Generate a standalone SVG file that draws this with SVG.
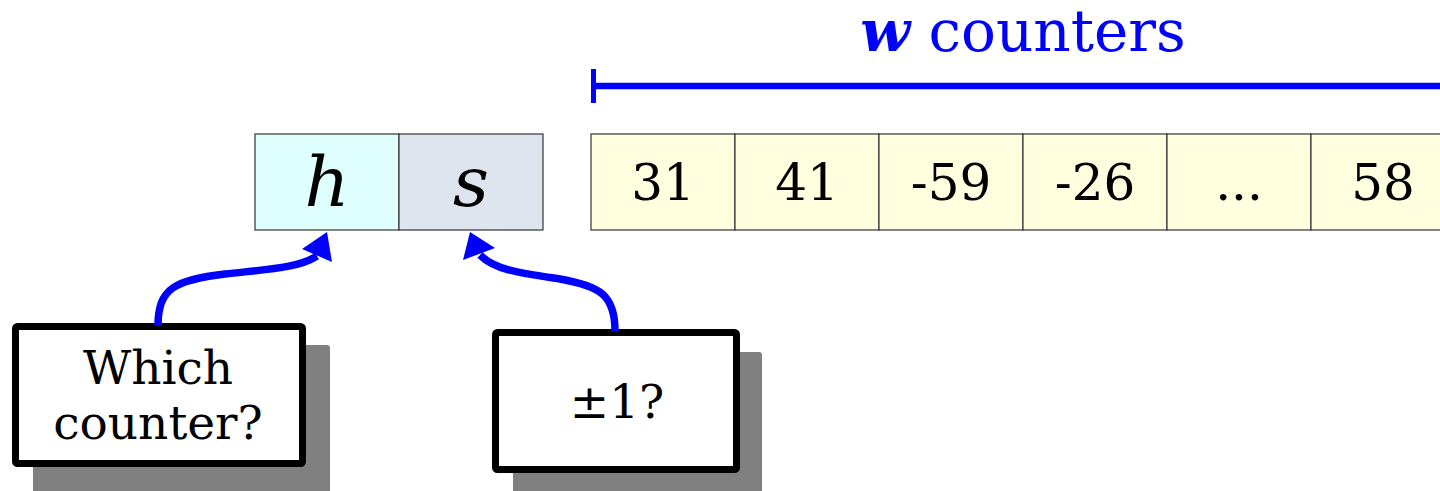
<svg xmlns="http://www.w3.org/2000/svg" width="1440" height="491" viewBox="0 0 1440 491">
<style>
.cell{stroke:#333;stroke-width:1.2}
.hbox{fill:#dfffff}
.sbox{fill:#dee5ef}
.cnt{fill:#ffffdf}
.t{font-family:"DejaVu Serif",serif;fill:#000;text-anchor:middle}
.num{font-size:50px}
.var{font-size:70px;font-style:italic}
.lbl{font-size:47px}
.box{fill:#fff;stroke:#000;stroke-width:7}
.shadow{fill:#808080}
.wire{fill:none;stroke:#0000ff;stroke-width:7.5}
.head{fill:#0000ff}
</style>
<rect width="1440" height="491" fill="#fff"/>
<g id="title">
<text x="1023" y="51" font-family="DejaVu Serif, serif" font-size="58" fill="#0000ff" text-anchor="middle"><tspan font-weight="bold" font-style="italic">w</tspan> counters</text>
<line x1="594" y1="86" x2="1440" y2="86" stroke="#0000ff" stroke-width="6.5"/>
<line x1="593.5" y1="69" x2="593.5" y2="103" stroke="#0000ff" stroke-width="5"/>
</g>
<g id="h">
<rect class="cell hbox" x="255" y="134" width="144" height="96"/>
<text class="t var" x="327" y="206">h</text>
</g>
<g id="s">
<rect class="cell sbox" x="399" y="134" width="144" height="96"/>
<text class="t var" x="471" y="206">s</text>
</g>
<g id="c1"><rect class="cell cnt" x="591" y="134" width="144" height="96"/><text class="t num" x="663" y="200">31</text></g>
<g id="c2"><rect class="cell cnt" x="735" y="134" width="144" height="96"/><text class="t num" x="807" y="200">41</text></g>
<g id="c3"><rect class="cell cnt" x="879" y="134" width="144" height="96"/><text class="t num" x="951" y="200">-59</text></g>
<g id="c4"><rect class="cell cnt" x="1023" y="134" width="144" height="96"/><text class="t num" x="1095" y="200">-26</text></g>
<g id="c5"><rect class="cell cnt" x="1167" y="134" width="144" height="96"/><text class="t num" x="1239" y="200">...</text></g>
<g id="c6"><rect class="cell cnt" x="1311" y="134" width="144" height="96"/><text class="t num" x="1383" y="200">58</text></g>
<g id="which">
<rect class="shadow" x="33" y="345" width="297" height="150" rx="3"/>
<rect class="box" x="15.5" y="326.5" width="287" height="137" rx="2"/>
<text class="t lbl" x="158" y="384">Which</text>
<text class="t lbl" x="158" y="439">counter?</text>
</g>
<g id="pm">
<rect class="shadow" x="513" y="352" width="249" height="143" rx="3"/>
<rect class="box" x="495.5" y="332.5" width="241" height="137" rx="2"/>
<text class="t lbl" x="617" y="418">±1?</text>
</g>
<g id="connectors">
<path class="wire" d="M158,326 C158,288 175,280 225,274 C270,269 298,268 317,256"/>
<polygon class="head" points="327,232 302,249 332,262"/>
<path class="wire" d="M615,331 C615,295 600,286 560,279 C520,273 495,270 480,255"/>
<polygon class="head" points="470,232 463,260 495,248"/>
</g>
</svg>
